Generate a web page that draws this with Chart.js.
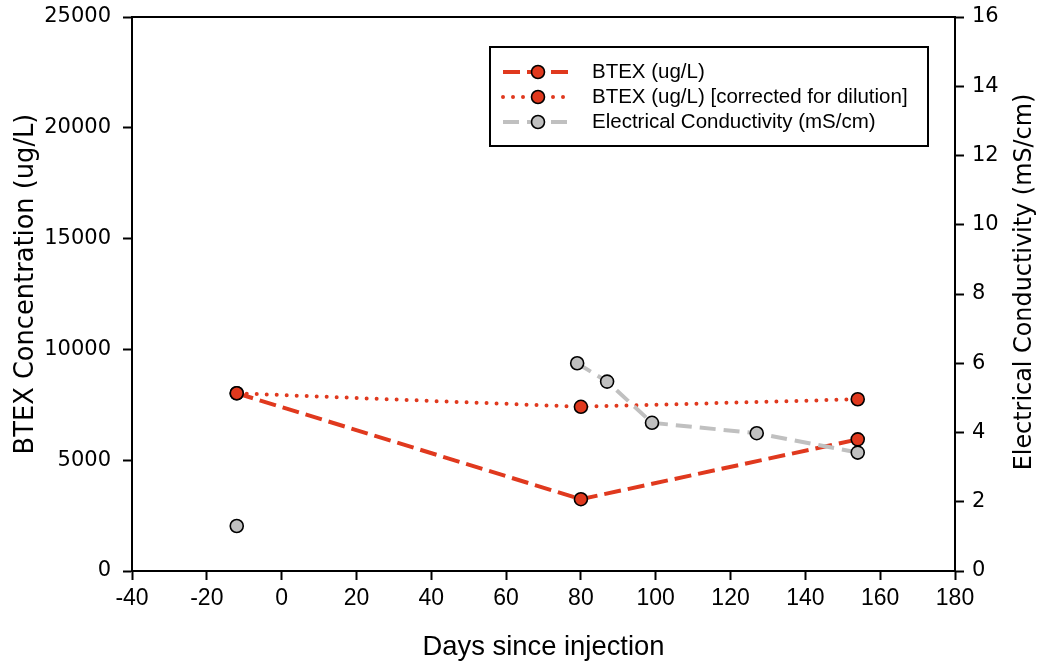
<!DOCTYPE html>
<html>
<head>
<meta charset="utf-8">
<script src="https://cdn.jsdelivr.net/npm/chart.js@4.4.1/dist/chart.umd.min.js"></script>
<style>
  html, body { margin: 0; padding: 0; background: #ffffff; }
  #wrap { width: 1044px; height: 668px; position: relative; }
</style>
</head>
<body>
<div id="wrap"><canvas id="chart" width="1044" height="668"></canvas></div>
<script>
// Sampling days relative to injection, and measured values
const btexDays = [-12, 80, 154];
const btexRaw = [8020, 3240, 5940];            // ug/L
const btexCorrected = [8020, 7410, 7750];      // ug/L, corrected for dilution
const ecDays = [-12, 79, 87, 99, 127, 154];
const ecValues = [1.30, 6.00, 5.47, 4.28, 3.98, 3.42]; // mS/cm

// Axis tick values
const dayTicks = [-40, -20, 0, 20, 40, 60, 80, 100, 120, 140, 160, 180];
const btexTicks = [0, 5000, 10000, 15000, 20000, 25000];
const ecTicks = [0, 2, 4, 6, 8, 10, 12, 14, 16];

const seriesLabels = [
  'BTEX (ug/L)',
  'BTEX (ug/L) [corrected for dilution]',
  'Electrical Conductivity (mS/cm)'
];
const xTitle = 'Days since injection';
const yTitle = 'BTEX Concentration (ug/L)';
const y1Title = 'Electrical Conductivity (mS/cm)';

const RED = '#e0391e';
const GREY = '#c0c0c0';
const INK = '#000000';
const WIDE = "'DejaVu Sans', sans-serif";
const PLAIN = "'Liberation Sans', Arial, sans-serif";
const NARROW = "'Liberation Sans Narrow', 'Liberation Sans', Arial, sans-serif";

const pts = (xs, ys) => xs.map((x, i) => ({ x: x, y: ys[i] }));

function rotatedTitle(ctx, text, x, y, font) {
  ctx.save();
  ctx.translate(x, y);
  ctx.rotate(-Math.PI / 2);
  ctx.font = font;
  ctx.fillStyle = INK;
  ctx.textAlign = 'center';
  ctx.textBaseline = 'middle';
  ctx.fillText(text, 0, 0);
  ctx.restore();
}

// Frame on top of the plot, the two vertical titles and the boxed legend
const decorations = {
  id: 'decorations',
  afterDraw(chart) {
    const ctx = chart.ctx;
    const a = chart.chartArea;
    ctx.save();

    // top edge of the plot frame
    ctx.strokeStyle = INK;
    ctx.lineWidth = 2;
    ctx.beginPath();
    ctx.moveTo(a.left - 1, a.top);
    ctx.lineTo(a.right + 1, a.top);
    ctx.stroke();

    // vertical axis titles, both reading bottom to top
    rotatedTitle(ctx, yTitle, 26, 284, '25.7px ' + WIDE);
    rotatedTitle(ctx, y1Title, 1025, 282, '23.9px ' + WIDE);

    // legend box
    const bx = 490, by = 47, bw = 438, bh = 99;
    ctx.fillStyle = '#ffffff';
    ctx.fillRect(bx, by, bw, bh);
    ctx.strokeStyle = INK;
    ctx.lineWidth = 2;
    ctx.strokeRect(bx, by, bw, bh);

    chart.data.datasets.forEach((ds, i) => {
      const cy = by + 25 + i * 25;
      const x0 = 503, x1 = 568, mx = 538;
      ctx.save();
      ctx.strokeStyle = ds.borderColor;
      ctx.lineWidth = ds.borderWidth;
      ctx.lineCap = ds.borderCapStyle || 'butt';
      ctx.setLineDash(ds.borderDash || []);
      ctx.beginPath();
      ctx.moveTo(x0, cy);
      ctx.lineTo(x1, cy);
      ctx.stroke();
      ctx.restore();

      ctx.beginPath();
      ctx.arc(mx, cy, ds.pointRadius, 0, Math.PI * 2);
      ctx.fillStyle = ds.pointBackgroundColor;
      ctx.fill();
      ctx.lineWidth = ds.pointBorderWidth;
      ctx.strokeStyle = ds.pointBorderColor;
      ctx.stroke();

      ctx.font = '20.5px ' + PLAIN;
      ctx.fillStyle = INK;
      ctx.textAlign = 'left';
      ctx.textBaseline = 'middle';
      ctx.fillText(ds.label, 592, cy);
    });
    ctx.restore();
  }
};

const axisCommon = {
  border: { display: true, color: INK, width: 2 },
  grid: {
    drawOnChartArea: false,
    drawTicks: true,
    tickLength: 9,
    tickWidth: 2,
    tickColor: INK
  }
};

// keep the vertical axes from reserving extra room above the plot
const fitVertical = width => s => {
  s.width = width;
  s.paddingTop = 0;
  s.paddingBottom = 0;
};

new Chart(document.getElementById('chart'), {
  type: 'line',
  data: {
    datasets: [
      {
        label: seriesLabels[0],
        data: pts(btexDays, btexRaw),
        yAxisID: 'y',
        order: 1,
        borderColor: RED,
        borderWidth: 4,
        borderDash: [17, 7],
        borderCapStyle: 'butt',
        pointRadius: 6.5,
        pointBackgroundColor: RED,
        pointBorderColor: INK,
        pointBorderWidth: 1.6,
        tension: 0,
        fill: false
      },
      {
        label: seriesLabels[1],
        data: pts(btexDays, btexCorrected),
        yAxisID: 'y',
        order: 2,
        borderColor: RED,
        borderWidth: 4,
        borderDash: [0, 10],
        borderCapStyle: 'round',
        pointRadius: 6.5,
        pointBackgroundColor: RED,
        pointBorderColor: INK,
        pointBorderWidth: 1.6,
        tension: 0,
        fill: false
      },
      {
        label: seriesLabels[2],
        data: pts(ecDays, ecValues),
        yAxisID: 'y1',
        order: 0,
        borderColor: GREY,
        borderWidth: 4,
        borderDash: [16, 8],
        borderCapStyle: 'butt',
        pointRadius: 6.5,
        pointBackgroundColor: GREY,
        pointBorderColor: INK,
        pointBorderWidth: 1.6,
        tension: 0,
        fill: false,
        // the pre-injection reading stands on its own
        segment: {
          borderColor: c => (c.p0DataIndex === 0 ? 'rgba(0,0,0,0)' : GREY)
        }
      }
    ]
  },
  options: {
    responsive: false,
    animation: false,
    devicePixelRatio: 1,
    layout: { padding: { top: 17, right: 0, bottom: 0, left: 0 } },
    plugins: {
      legend: { display: false },
      tooltip: { enabled: false }
    },
    scales: {
      x: Object.assign({}, axisCommon, {
        type: 'linear',
        position: 'bottom',
        min: dayTicks[0],
        max: dayTicks[dayTicks.length - 1],
        afterBuildTicks: s => { s.ticks = dayTicks.map(v => ({ value: v })); },
        afterFit: s => { s.height = 97; },
        ticks: {
          color: INK,
          font: { family: NARROW, size: 23 },
          padding: 5,
          maxRotation: 0,
          autoSkip: false
        },
        title: {
          display: true,
          text: xTitle,
          color: INK,
          font: { family: NARROW, size: 27.4 },
          padding: { top: 0, bottom: 4 }
        }
      }),
      y: Object.assign({}, axisCommon, {
        type: 'linear',
        position: 'left',
        min: btexTicks[0],
        max: btexTicks[btexTicks.length - 1],
        afterBuildTicks: s => { s.ticks = btexTicks.map(v => ({ value: v })); },
        afterFit: fitVertical(132),
        ticks: {
          color: INK,
          font: { family: WIDE, size: 21 },
          padding: 12,
          callback: v => String(v)
        }
      }),
      y1: Object.assign({}, axisCommon, {
        type: 'linear',
        position: 'right',
        min: ecTicks[0],
        max: ecTicks[ecTicks.length - 1],
        afterBuildTicks: s => { s.ticks = ecTicks.map(v => ({ value: v })); },
        afterFit: fitVertical(89),
        ticks: {
          color: INK,
          font: { family: WIDE, size: 21 },
          padding: 8
        }
      })
    }
  },
  plugins: [decorations]
});
</script>
</body>
</html>
